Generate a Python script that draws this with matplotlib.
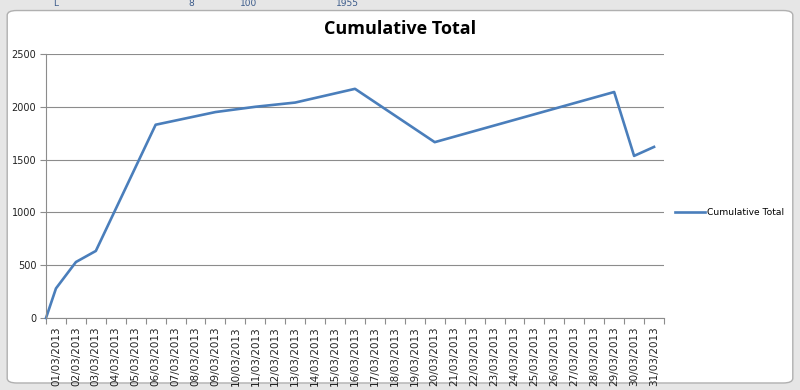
import numpy as np
import matplotlib.pyplot as plt
from matplotlib.patches import FancyBboxPatch

# day of March 2013 (0.5 = start point at the axis) and cumulative total
days = [0.5, 1, 2, 3, 6, 9, 11, 13, 16, 20, 29, 30, 31]
totals = [0, 280, 530, 635, 1830, 1950, 2000, 2040, 2170, 1665, 2140, 1535, 1620]
labels = ['{:02d}/03/2013'.format(d) for d in range(1, 32)]
series_name = 'Cumulative Total'

blue = '#4a7ebb'
grid = '#8c8c8c'

fig = plt.figure(figsize=(8, 3.9), dpi=100, facecolor='#e6e6e6')

# chart area frame (excel style)
frame = FancyBboxPatch((0.009, 0.018), 0.982, 0.955,
                       boxstyle='round,pad=0,rounding_size=0.012',
                       transform=fig.transFigure, facecolor='white',
                       edgecolor='#b0b0b0', linewidth=1.0, zorder=-10)
fig.patches.append(frame)

# bits of the spreadsheet showing above the chart
for x, s in [(0.066, 'L'), (0.235, '8'), (0.3, '100'), (0.42, '1955')]:
    fig.text(x, 0.992, s, fontsize=6.5, color='#3a5a8a', ha='left', va='center')

ax = fig.add_axes([0.0575, 0.1846, 0.7725, 0.677])
ax.set_zorder(1)
ax.patch.set_alpha(0)
ax.plot(days, totals, color=blue, linewidth=1.9, label=series_name,
        solid_joinstyle='round', clip_on=False)

ax.set_xlim(0.5, 31.5)
ax.set_ylim(0, 2500)
ax.set_yticks(np.arange(0, 2501, 500))
ax.yaxis.grid(True, color=grid, linewidth=0.8)
ax.set_axisbelow(True)

ax.set_xticks(range(1, 32))
ax.set_xticklabels(labels, rotation=90, fontsize=7.5, color='#222222')
ax.set_xticks(np.arange(0.5, 32, 1), minor=True)
ax.tick_params(axis='x', which='major', length=0, pad=6)
ax.tick_params(axis='x', which='minor', length=4, color=grid, width=0.8)
ax.tick_params(axis='y', length=4, color=grid, width=0.8, labelsize=7,
               labelcolor='#222222', pad=3)

for side in ['top', 'right']:
    ax.spines[side].set_visible(False)
for side in ['left', 'bottom']:
    ax.spines[side].set_color(grid)
    ax.spines[side].set_linewidth(0.8)

fig.text(0.5, 0.925, 'Cumulative Total', fontsize=13, fontweight='bold',
         ha='center', va='center', family='Open Sans')

ax.legend(loc='center left', bbox_to_anchor=(1.005, 0.4), frameon=False,
          fontsize=6.6, handlelength=3.2, handletextpad=0.3)

fig.savefig('out.png', dpi=100, facecolor=fig.get_facecolor())
